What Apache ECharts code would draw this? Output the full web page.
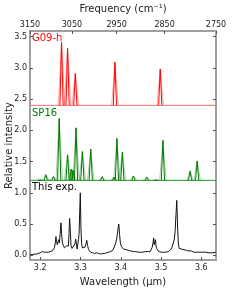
<!DOCTYPE html>
<html><head><meta charset="utf-8">
<script src="https://cdn.jsdelivr.net/npm/echarts@6/dist/echarts.min.js"></script>
<style>html,body{margin:0;padding:0;background:#fff}#c{width:240px;height:300px}</style>
</head><body><div id="c"></div>
<script>
// ---- data ----
const wlTicks = [3.2, 3.3, 3.4, 3.5, 3.6];
const freqTicks = [3150, 3050, 2950, 2850, 2750];
const yTicks = [0, 0.5, 1.0, 1.5, 2.0, 2.5, 3.0, 3.5];
const g09Base = 2.4;
const g09Pos = [3.2529, 3.2679, 3.2871, 3.3854, 3.4979];
const g09Peak = [3.41, 3.31, 2.91, 3.09, 2.98];
const sp16Base = 1.2;
const sp16Pos = [3.1996, 3.2139, 3.2329, 3.2471, 3.2679, 3.2771, 3.2814, 3.2889, 3.3046, 3.3254, 3.3539, 3.3829, 3.3904, 3.4039, 3.4314, 3.4646, 3.4871, 3.5046, 3.5721, 3.5896];
const sp16Peak = [1.22, 1.29, 1.26, 2.19, 1.61, 1.38, 1.36, 2.04, 1.66, 1.70, 1.26, 1.25, 1.87, 1.65, 1.27, 1.25, 1.21, 1.84, 1.35, 1.51];
const expWl = [3.175,3.1775,3.18,3.1825,3.185,3.1875,3.19,3.1925,3.195,3.1975,3.2,3.2025,3.205,3.2075,3.21,3.2125,3.215,3.2175,3.22,3.2225,3.225,3.2275,3.23,3.2325,3.235,3.2375,3.239,3.2405,3.2425,3.244,3.2455,3.2475,3.25,3.2515,3.253,3.255,3.2575,3.26,3.2625,3.265,3.2675,3.27,3.2715,3.273,3.275,3.2765,3.279,3.281,3.2835,3.286,3.288,3.29,3.2915,3.293,3.295,3.2965,3.298,3.2995,3.301,3.3025,3.3045,3.306,3.3085,3.311,3.3135,3.3155,3.3175,3.32,3.3225,3.325,3.33,3.335,3.34,3.345,3.35,3.355,3.36,3.365,3.37,3.375,3.38,3.3825,3.385,3.3875,3.39,3.3925,3.395,3.397,3.399,3.4015,3.404,3.407,3.41,3.413,3.416,3.419,3.422,3.425,3.428,3.431,3.434,3.437,3.44,3.443,3.446,3.449,3.452,3.455,3.458,3.461,3.464,3.467,3.47,3.473,3.476,3.478,3.48,3.4815,3.483,3.4845,3.486,3.4875,3.489,3.491,3.494,3.497,3.5,3.503,3.506,3.509,3.512,3.515,3.518,3.521,3.524,3.527,3.53,3.533,3.535,3.537,3.539,3.541,3.543,3.545,3.548,3.551,3.554,3.557,3.56,3.563,3.566,3.569,3.572,3.575,3.578,3.581,3.584,3.587,3.59,3.593,3.596,3.599,3.602,3.605,3.608,3.611,3.614,3.617,3.62,3.623,3.626,3.629,3.632,3.636];
const expVal = [0.01,0.02,0.01,0.02,0.02,0.03,0.02,0.03,0.03,0.04,0.04,0.05,0.06,0.09,0.05,0.04,0.05,0.04,0.05,0.05,0.06,0.05,0.07,0.08,0.12,0.2,0.3,0.22,0.17,0.2,0.25,0.2,0.38,0.52,0.35,0.2,0.16,0.12,0.11,0.15,0.13,0.15,0.35,0.59,0.35,0.15,0.11,0.09,0.12,0.18,0.26,0.18,0.1,0.12,0.25,0.35,0.7,1.0,0.45,0.2,0.12,0.09,0.11,0.13,0.18,0.24,0.16,0.09,0.06,0.05,0.04,0.03,0.04,0.03,0.02,0.03,0.03,0.04,0.05,0.06,0.08,0.11,0.15,0.2,0.27,0.4,0.5,0.33,0.2,0.14,0.12,0.1,0.08,0.09,0.07,0.08,0.06,0.07,0.05,0.06,0.05,0.06,0.04,0.05,0.04,0.05,0.04,0.05,0.04,0.06,0.05,0.06,0.07,0.06,0.09,0.13,0.2,0.28,0.17,0.2,0.25,0.15,0.11,0.08,0.06,0.05,0.05,0.04,0.05,0.04,0.05,0.05,0.06,0.07,0.09,0.13,0.19,0.26,0.4,0.65,0.88,0.45,0.18,0.11,0.09,0.1,0.08,0.09,0.07,0.08,0.06,0.07,0.06,0.07,0.06,0.05,0.06,0.05,0.06,0.05,0.06,0.05,0.06,0.05,0.06,0.05,0.05,0.04,0.05,0.04,0.05,0.04,0.05,0.05];

// ---- build ----
const XMIN = 10000 / freqTicks[0], XMAX = 10000 / freqTicks[freqTicks.length - 1];
function sticks(pos, peak, base, hw) {
  const d = [];
  pos.forEach((p, i) => { d.push([p - hw, base], [p, peak[i]], [p + hw, base], [p + hw, '-']); });
  return d;
}
const FONT = 'DejaVu Sans';
const AX = { show: true, onZero: false, lineStyle: { color: '#a0a0a0', width: 2 } };
const chart = echarts.init(document.getElementById('c'), null, { renderer: 'canvas' });
chart.setOption({
  animation: false,
  textStyle: { fontFamily: FONT },
  grid: { left: 30, right: 24, top: 31, bottom: 40, containLabel: false, outerBoundsMode: 'none' },
  xAxis: [
    { type: 'value', position: 'bottom', min: XMIN, max: XMAX,
      name: 'Wavelength (μm)', nameLocation: 'middle', nameGap: 17, nameMoveOverlap: false,
      nameTextStyle: { fontSize: 10, color: '#222', fontFamily: FONT },
      axisLine: AX, splitLine: { show: false },
      axisTick: { inside: true, length: 3, customValues: wlTicks, lineStyle: { color: '#555' } },
      axisLabel: { customValues: wlTicks, fontSize: 8, color: '#222', margin: 4, formatter: v => v.toFixed(1) } },
    { type: 'value', position: 'top', min: XMIN, max: XMAX,
      name: 'Frequency (cm⁻¹)', nameLocation: 'middle', nameGap: 17, nameMoveOverlap: false,
      nameTextStyle: { fontSize: 10, color: '#222', fontFamily: FONT },
      axisLine: AX, splitLine: { show: false },
      axisTick: { inside: true, length: 3, customValues: freqTicks.map(f => 10000 / f), lineStyle: { color: '#555' } },
      axisLabel: { customValues: freqTicks.map(f => 10000 / f), fontSize: 8, color: '#222', margin: 2, formatter: v => String(Math.round(10000 / v)) } }
  ],
  yAxis: [
    { type: 'value', position: 'left', min: -0.075, max: 3.59,
      name: 'Relative intensity', nameLocation: 'middle', nameGap: 16, nameMoveOverlap: false,
      nameTextStyle: { fontSize: 10, color: '#222', fontFamily: FONT },
      axisLine: AX, splitLine: { show: false },
      axisTick: { inside: true, length: 3, customValues: yTicks, lineStyle: { color: '#555' } },
      axisLabel: { customValues: yTicks, fontSize: 8, color: '#222', margin: 3, formatter: v => v.toFixed(1) } },
    { type: 'value', position: 'right', min: -0.075, max: 3.59,
      axisLine: AX, splitLine: { show: false },
      axisTick: { inside: true, length: 3, customValues: yTicks, lineStyle: { color: '#555' } },
      axisLabel: { show: false } }
  ],
  series: [
    { type: 'line', data: [[XMIN, g09Base], [XMAX, g09Base]], symbol: 'none', lineStyle: { color: '#f07070', width: 1 } },
    { type: 'line', data: sticks(g09Pos, g09Peak, g09Base, 0.008), symbol: 'none', lineStyle: { color: 'rgba(255,0,0,0.35)', width: 1 } },
    { type: 'line', data: sticks(g09Pos, g09Peak, g09Base, 0.004), symbol: 'none', lineStyle: { color: '#ff0000', width: 1 } },
    { type: 'line', data: [[XMIN, sp16Base], [XMAX, sp16Base]], symbol: 'none', lineStyle: { color: '#1a9a1a', width: 1 } },
    { type: 'line', data: sticks(sp16Pos, sp16Peak, sp16Base, 0.008), symbol: 'none', lineStyle: { color: 'rgba(0,128,0,0.35)', width: 1 } },
    { type: 'line', data: sticks(sp16Pos, sp16Peak, sp16Base, 0.004), symbol: 'none', lineStyle: { color: '#007a00', width: 1 } },
    { type: 'line', data: expWl.map((w, i) => [w, expVal[i]]), symbol: 'none', lineStyle: { color: '#111', width: 1 } }
  ],
  graphic: [
    { type: 'text', left: 32, top: 33, style: { text: 'G09-h', fill: '#ff0000', font: '10px "DejaVu Sans"' } },
    { type: 'text', left: 32, top: 108, style: { text: 'SP16', fill: '#008000', font: '10px "DejaVu Sans"' } },
    { type: 'text', left: 32, top: 182, style: { text: 'This exp.', fill: '#000', font: '10px "DejaVu Sans"' } }
  ]
});
</script></body></html>
